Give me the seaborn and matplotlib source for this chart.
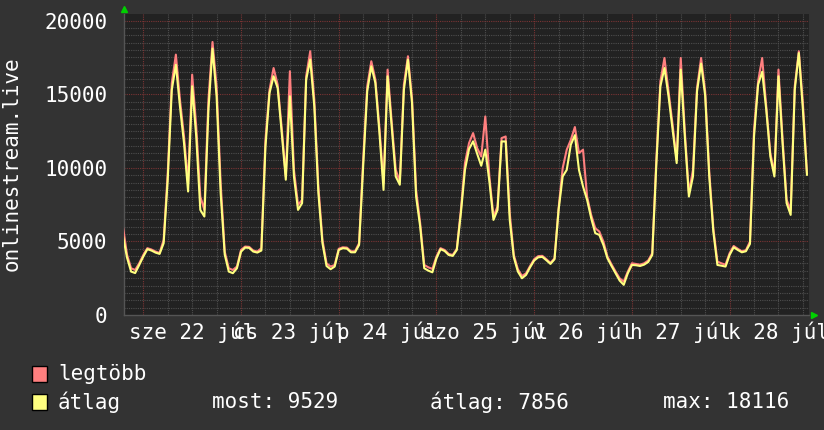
import numpy as np
import pandas as pd
import matplotlib
matplotlib.use("Agg")
import matplotlib.pyplot as plt
import seaborn as sns
from matplotlib.patches import Rectangle

# hours since 22 Jul 00:00
hours = list(range(-5, 164))

avg_vals = [
    5400, 3900, 2950, 2850, 3400,
    3970, 4470, 4380, 4240, 4150, 4880, 9200, 15300, 17000, 14170, 11680, 8390,
    15540, 12130, 7140, 6690, 13950, 18100, 14860, 8280, 4100, 2950, 2840, 3175,
    4300, 4580, 4560, 4310, 4240, 4380, 11430, 15080, 16220, 15420, 12360, 9190,
    14860, 9410, 7140, 7600, 15990, 17350, 14170, 8280, 4880, 3330, 3110, 3290,
    4420, 4540, 4510, 4260, 4260, 4760, 10090, 15200, 16900, 15760, 12360, 8500,
    16220, 12800, 9410, 8850, 15300, 17350, 14400, 8050, 6010, 3175, 3015, 2900,
    3850, 4470, 4350, 4080, 4015, 4420, 6920, 9860, 11270, 11800, 10950, 10140,
    11230, 9070, 6460, 7140, 11790, 11790, 6460, 3920, 2950, 2495, 2720, 3240,
    3700, 3920, 3950, 3720, 3470, 3790, 7140, 9410, 9860, 11570, 12220, 9860,
    8730, 7820, 6580, 5560, 5440, 4760, 3850, 3330, 2835, 2335, 2050, 2835,
    3400, 3380, 3330, 3420, 3600, 4080, 10200, 15540, 16780, 14860, 12590, 10320,
    16670, 12130, 8050, 9410, 15200, 17080, 14900, 9410, 5670, 3400, 3350, 3290,
    4080, 4600, 4420, 4260, 4330, 4830, 12130, 15650, 16530, 13950, 10770, 9410,
    16220, 11680, 7600, 6800, 15300, 17800, 13950, 9529,
]

max_vals = [
    6000, 4100, 3175, 3060, 3515,
    4080, 4540, 4450, 4310, 4220, 5100, 9640, 15760, 17690, 14630, 12130, 8960,
    16330, 12810, 8050, 7140, 14630, 18550, 15535, 8960, 4300, 3175, 3060, 3290,
    4420, 4650, 4630, 4380, 4310, 4540, 11900, 15300, 16780, 15650, 12700, 9410,
    16560, 9860, 7480, 7820, 16220, 17920, 14630, 8730, 5100, 3515, 3290, 3400,
    4500, 4600, 4580, 4330, 4330, 4880, 10550, 15540, 17240, 15990, 12700, 8960,
    16670, 13150, 9860, 9070, 15650, 17580, 14740, 8500, 6240, 3400, 3240, 3130,
    3970, 4540, 4420, 4150, 4080, 4500, 7140, 10320, 11680, 12360, 11340, 10770,
    13490, 9410, 6690, 7370, 12020, 12130, 6920, 4080, 3110, 2650, 2830, 3330,
    3790, 4000, 4020, 3790, 3540, 3850, 7260, 9980, 11230, 11900, 12770, 11000,
    11230, 8050, 6800, 5900, 5670, 4990, 3970, 3440, 2950, 2490, 2270, 2950,
    3515, 3470, 3420, 3510, 3700, 4200, 10550, 15880, 17460, 15200, 12930, 10550,
    17460, 12470, 8280, 9860, 15420, 17460, 15200, 9750, 5900, 3630, 3510, 3420,
    4200, 4690, 4500, 4330, 4400, 4990, 12590, 15880, 17460, 14170, 11000, 9640,
    16670, 12020, 7820, 7140, 15540, 17920, 14400, 9650,
]

day_labels = ["sze 22 júl", "cs 23 júl", "p 24 júl", "szo 25 júl",
              "v 26 júl", "h 27 júl", "k 28 júl"]
y_ticks = [0, 5000, 10000, 15000, 20000]
series_names = ["legtöbb", "átlag"]
series_colors = ["#FF7F7F", "#FFFF7F"]
stat_texts = ["most: 9529", "átlag: 7856", "max: 18116"]
y_title = "onlinestream.live"

plt.rcParams['font.family'] = ['DejaVu Sans Mono', 'DejaVu Sans']
FS = 15
TXT = "#ffffff"

W, H = 824, 430
fig = plt.figure(figsize=(W / 100, H / 100), dpi=100, facecolor="#333333")
ax = fig.add_axes([124 / W, 1 - 315 / H, (809 - 124) / W, (315 - 14) / H])
ax.set_facecolor("#222222")

x_min, x_max = -4.74, 163.5
ax.set_xlim(x_min, x_max)
ax.set_ylim(0, 20450)

# grid
dot = (0, (1, 1))
for v in range(500, 20500, 500):
    if v % 5000:
        ax.axhline(v, color="#4e4e4e", lw=0.8, ls=dot, zorder=1)
for h in range(0, 164, 6):
    if h % 24:
        ax.axvline(h, color="#4e4e4e", lw=0.8, ls=dot, zorder=1)
for v in range(5000, 20500, 5000):
    ax.axhline(v, color="#7a3434", lw=0.8, ls=dot, zorder=1.5)
for h in range(0, 164, 24):
    ax.axvline(h, color="#7a3434", lw=0.8, ls=dot, zorder=1.5)

df = pd.DataFrame({
    "t": hours + hours,
    "v": max_vals + avg_vals,
    "s": [series_names[0]] * len(hours) + [series_names[1]] * len(hours),
})
sns.lineplot(data=df, x="t", y="v", hue="s", hue_order=series_names,
             palette=dict(zip(series_names, series_colors)),
             estimator=None, linewidth=1.5, legend=False, ax=ax, zorder=3)

ax.set_xlabel("")
ax.set_ylabel("")
ax.set_xticks([12 + 24 * i for i in range(len(day_labels))], day_labels)
ax.set_yticks(y_ticks, [str(v) for v in y_ticks])
ax.tick_params(axis="x", length=0, pad=5, colors=TXT, labelsize=FS)
ax.tick_params(axis="y", length=0, pad=12, colors=TXT, labelsize=FS)
for s in ["top", "right"]:
    ax.spines[s].set_visible(False)
for s in ["left", "bottom"]:
    ax.spines[s].set_color("#555555")
    ax.spines[s].set_linewidth(1)

# arrows
ax.plot([0], [1.015], marker="^", color="#00d000", ms=5, transform=ax.transAxes,
        clip_on=False, zorder=5)
ax.plot([1.007], [0], marker=">", color="#00d000", ms=5, transform=ax.transAxes,
        clip_on=False, zorder=5)

# y title
fig.text(12 / W, 1 - 164 / H, y_title, rotation=90, ha="center", va="center",
         color=TXT, fontsize=FS)

# legend
rows_y = [374, 402]
for name, col, yy in zip(series_names, series_colors, rows_y):
    fig.patches.append(Rectangle((32 / W, 1 - (yy + 8) / H), 15 / W, 16 / H,
                                 transform=fig.transFigure, facecolor=col,
                                 edgecolor="black", lw=1))
    fig.text(58 / W, 1 - yy / H, name, ha="left", va="center", color=TXT, fontsize=FS)
for txt, xx in zip(stat_texts, [212, 430, 663]):
    fig.text(xx / W, 1 - rows_y[1] / H, txt, ha="left", va="center", color=TXT, fontsize=FS)

fig.savefig("out.png", dpi=100, facecolor=fig.get_facecolor())
